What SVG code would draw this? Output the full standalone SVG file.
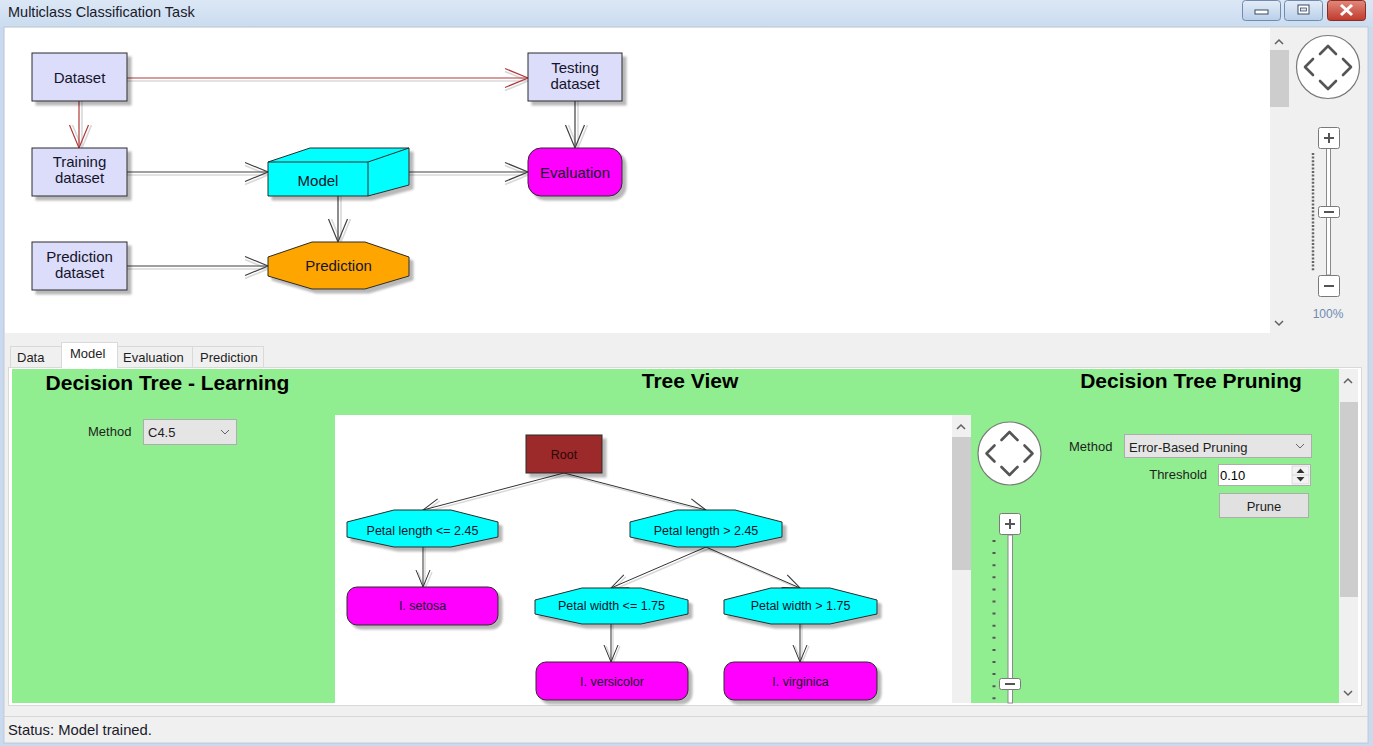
<svg xmlns="http://www.w3.org/2000/svg" width="1373" height="746" viewBox="0 0 1373 746">
<defs>
<style>
text{font-family:"Liberation Sans",Arial,sans-serif;}
.n{stroke:#2a2a2a;stroke-width:1;filter:url(#sh);}
.ds{fill:#dcdcfb;}
.lbl{font-size:15px;fill:#14142a;text-anchor:middle;}
.tl{font-size:12.5px;fill:#14142a;text-anchor:middle;}
.ui{font-size:13px;fill:#1e1e1e;}
.h{font-size:21px;font-weight:bold;fill:#000;}
.cg{fill:none;stroke:#404040;stroke-width:1.2;marker-end:url(#aG);}
.cr{fill:none;stroke:#b03a3a;stroke-width:1.2;marker-end:url(#aR);}
.cs{fill:none;stroke:#d8d8d8;stroke-width:1.6;marker-end:url(#aS);}
.tc{fill:none;stroke:#333;stroke-width:1;marker-end:url(#tG);}
.ts{fill:none;stroke:#d8d8d8;stroke-width:1.4;marker-end:url(#tS);}
.chev{fill:none;stroke:#555;stroke-width:2.6;stroke-linecap:round;stroke-linejoin:round;}
.sa{fill:none;stroke:#606060;stroke-width:1.5;}
.btn{fill:#fff;stroke:#7a7a7a;stroke-width:1;}
.ico{stroke:#555;stroke-width:2;}
.trk{fill:#fff;stroke:#8a8a8a;stroke-width:1;}
.tab{fill:#f0f0f0;stroke:#d9d9d9;stroke-width:1;}
</style>
<filter id="sh" x="-10%" y="-10%" width="130%" height="140%">
<feDropShadow dx="4" dy="4" stdDeviation="1.2" flood-color="#000" flood-opacity="0.28"/>
</filter>
<marker id="aR" markerUnits="userSpaceOnUse" markerWidth="26" markerHeight="22" viewBox="0 0 26 22" refX="24" refY="11" orient="auto"><path d="M1,1.5 L24,11 L1,20.5" fill="none" stroke="#b03a3a" stroke-width="1.2"/></marker>
<marker id="aG" markerUnits="userSpaceOnUse" markerWidth="26" markerHeight="22" viewBox="0 0 26 22" refX="24" refY="11" orient="auto"><path d="M1,1.5 L24,11 L1,20.5" fill="none" stroke="#404040" stroke-width="1.2"/></marker>
<marker id="aS" markerUnits="userSpaceOnUse" markerWidth="26" markerHeight="22" viewBox="0 0 26 22" refX="24" refY="11" orient="auto"><path d="M1,1.5 L24,11 L1,20.5" fill="none" stroke="#d8d8d8" stroke-width="1.6"/></marker>
<marker id="tG" markerUnits="userSpaceOnUse" markerWidth="20" markerHeight="18" viewBox="0 0 20 18" refX="18" refY="8" orient="auto"><path d="M1,1 L18,8 L1,15" fill="none" stroke="#333" stroke-width="1"/></marker>
<marker id="tS" markerUnits="userSpaceOnUse" markerWidth="20" markerHeight="18" viewBox="0 0 20 18" refX="18" refY="8" orient="auto"><path d="M1,1 L18,8 L1,15" fill="none" stroke="#d8d8d8" stroke-width="1.4"/></marker>
<linearGradient id="tb" x1="0" y1="0" x2="0" y2="1"><stop offset="0" stop-color="#dbe7f5"/><stop offset="1" stop-color="#cbdcf0"/></linearGradient>
<linearGradient id="wb" x1="0" y1="0" x2="0" y2="1"><stop offset="0" stop-color="#e4edf8"/><stop offset="1" stop-color="#b9cfe9"/></linearGradient>
<linearGradient id="cb" x1="0" y1="0" x2="0" y2="1"><stop offset="0" stop-color="#e08a7c"/><stop offset="1" stop-color="#c0392b"/></linearGradient>
</defs>

<!-- window chrome -->
<rect x="0" y="0" width="1373" height="746" fill="#c9daef"/>
<rect x="0" y="0" width="1373" height="27" fill="url(#tb)"/>
<text x="8" y="17" style="font-size:14.5px;fill:#1a1a2a">Multiclass Classification Task</text>
<g id="win-buttons">
<rect x="1242.5" y="0.5" width="38" height="20" rx="3" fill="url(#wb)" stroke="#6f8bb0"/>
<rect x="1255" y="10" width="13" height="4" fill="#fff" stroke="#3b4a60"/>
<rect x="1284.5" y="0.5" width="38" height="20" rx="3" fill="url(#wb)" stroke="#6f8bb0"/>
<rect x="1298" y="5" width="11" height="9" fill="#fff" stroke="#3b4a60"/>
<rect x="1300.5" y="8" width="6" height="3" fill="#dbe7f5" stroke="#3b4a60" stroke-width="0.8"/>
<rect x="1327.5" y="0.5" width="38" height="20" rx="3" fill="url(#cb)" stroke="#8a2a22"/>
<path d="M1341,5 L1352,15 M1352,5 L1341,15" stroke="#fff" stroke-width="3"/>
</g>
<rect x="4" y="27" width="1364" height="716" fill="#f0f0f0" stroke="#b0b8c4" stroke-width="0.6"/>

<!-- top diagram canvas -->
<rect x="5" y="28" width="1265" height="305" fill="#fff"/>
<rect x="1270" y="50" width="19" height="57" fill="#cdcdcd"/>
<path class="sa" d="M1275,44 L1279,40 L1283,44"/>
<path class="sa" d="M1275,321 L1279,325 L1283,321"/>

<!-- top navigator -->
<g id="top-navigator">
<circle cx="1328" cy="67" r="31.5" fill="#fff" stroke="#7a7a7a" stroke-width="1.2"/>
<path class="chev" d="M1320,54 L1328,46 L1336,54"/>
<path class="chev" d="M1320,81 L1328,89 L1336,81"/>
<path class="chev" d="M1313,59 L1305,67 L1313,75"/>
<path class="chev" d="M1343,59 L1351,67 L1343,75"/>
</g>
<g id="top-zoom">
<line x1="1313" y1="153" x2="1313" y2="271" stroke="#666" stroke-width="2.5" stroke-dasharray="2,1.6"/>
<rect class="trk" x="1326.5" y="148" width="4" height="127"/>
<rect class="btn" x="1318.5" y="127.5" width="21" height="21" rx="2"/>
<path class="ico" d="M1324,138 H1334 M1329,133 V143"/>
<rect class="btn" x="1318.5" y="206.5" width="21" height="11" rx="2"/>
<path class="ico" d="M1324,212 H1334"/>
<rect class="btn" x="1318.5" y="275.5" width="21" height="21" rx="2"/>
<path class="ico" d="M1324,286 H1334"/>
<text x="1328" y="318" text-anchor="middle" style="font-size:12px;fill:#6d8ab0">100%</text>
</g>

<!-- flow connectors -->
<g id="flow-connectors">
<path class="cs" d="M127,81 H528"/>
<path class="cs" d="M82,101 V148"/>
<path class="cs" d="M127,175 H268"/>
<path class="cs" d="M409,175 H528"/>
<path class="cs" d="M341,196 V242"/>
<path class="cs" d="M578,101 V148"/>
<path class="cs" d="M127,269 H268"/>
<path class="cr" d="M127,78 H528"/>
<path class="cr" d="M79,101 V148"/>
<path class="cg" d="M127,172 H268"/>
<path class="cg" d="M409,172 H528"/>
<path class="cg" d="M338,196 V242"/>
<path class="cg" d="M575,101 V148"/>
<path class="cg" d="M127,266 H268"/>
</g>

<!-- flow nodes -->
<g id="node-dataset">
<rect class="n ds" x="32" y="53" width="95" height="48"/>
<text class="lbl" x="79.5" y="83">Dataset</text>
</g>
<g id="node-training">
<rect class="n ds" x="32" y="148" width="95" height="48"/>
<text class="lbl" x="79.5" y="167">Training</text>
<text class="lbl" x="79.5" y="183">dataset</text>
</g>
<g id="node-predset">
<rect class="n ds" x="32" y="242" width="95" height="48"/>
<text class="lbl" x="79.5" y="262">Prediction</text>
<text class="lbl" x="79.5" y="278">dataset</text>
</g>
<g id="node-testing">
<rect class="n ds" x="528" y="53" width="94" height="48"/>
<text class="lbl" x="575" y="73">Testing</text>
<text class="lbl" x="575" y="89">dataset</text>
</g>
<g id="node-model">
<path class="n" fill="#00ffff" d="M268,162 L310,148 L409,148 L409,185 L368,196 L268,196 Z"/>
<path fill="none" stroke="#2a2a2a" d="M268,162 H368 L409,148 M368,162 V196"/>
<text class="lbl" x="318" y="186">Model</text>
</g>
<g id="node-evaluation">
<rect class="n" fill="#ff00ff" x="528" y="148" width="94" height="48" rx="13"/>
<text class="lbl" x="575" y="178">Evaluation</text>
</g>
<g id="node-prediction">
<polygon class="n" fill="#ffa500" points="312,242 365,242 409,257 409,276 365,289 312,289 268,276 268,257"/>
<text class="lbl" x="338.5" y="271">Prediction</text>
</g>

<!-- tabs -->
<g id="tabs">
<rect class="tab" x="10.5" y="346.5" width="51" height="21"/>
<rect class="tab" x="117.5" y="346.5" width="75" height="21"/>
<rect class="tab" x="192.5" y="346.5" width="71" height="21"/>
<rect x="8.5" y="367.5" width="1353" height="338" fill="#fff" stroke="#d9d9d9"/>
<path d="M61.5,368 V342.5 H117.5 V368" fill="#fff" stroke="#d9d9d9"/>
<rect x="62" y="366" width="55" height="3" fill="#fff"/>
<text class="ui" x="17" y="362">Data</text>
<text class="ui" x="70" y="358">Model</text>
<text class="ui" x="123" y="362">Evaluation</text>
<text class="ui" x="200" y="362">Prediction</text>
</g>

<!-- green panel -->
<rect x="12" y="369" width="1327" height="334" fill="#90ee90"/>
<rect x="1339" y="369" width="19" height="334" fill="#f0f0f0"/>
<rect x="1340" y="402" width="18" height="195" fill="#cdcdcd"/>
<path class="sa" d="M1344,383 L1348,379 L1352,383"/>
<path class="sa" d="M1344,691 L1348,695 L1352,691"/>

<text class="h" x="167.5" y="390" text-anchor="middle">Decision Tree - Learning</text>
<text class="h" x="690" y="388" text-anchor="middle">Tree View</text>
<text class="h" x="1191" y="388" text-anchor="middle">Decision Tree Pruning</text>

<g id="learning-controls">
<text class="ui" x="88" y="436">Method</text>
<rect x="143.5" y="419.5" width="93" height="25" fill="#e5e5e5" stroke="#adadad"/>
<text class="ui" x="148" y="437">C4.5</text>
<path d="M221,430 L225,434 L229,430" fill="none" stroke="#666"/>
</g>

<!-- tree view -->
<rect x="335" y="415" width="617" height="288" fill="#fff"/>
<rect x="952" y="415" width="19" height="288" fill="#f0f0f0"/>
<rect x="952" y="437" width="19" height="133" fill="#cdcdcd"/>
<path class="sa" d="M957,429 L961,425 L965,429"/>

<g id="tree-connectors">
<path class="ts" d="M566,475 L425,512"/>
<path class="ts" d="M566,475 L708,512"/>
<path class="ts" d="M425,547 V589"/>
<path class="ts" d="M708,549 L613,590"/>
<path class="ts" d="M708,549 L802,590"/>
<path class="ts" d="M613,624 V663"/>
<path class="ts" d="M802,624 V663"/>
<path class="tc" d="M564,473 L423,510"/>
<path class="tc" d="M564,473 L706,510"/>
<path class="tc" d="M423,547 V587"/>
<path class="tc" d="M706,547 L611,588"/>
<path class="tc" d="M706,547 L800,588"/>
<path class="tc" d="M611,624 V662"/>
<path class="tc" d="M800,624 V662"/>
</g>

<g id="tree-root">
<rect class="n" fill="#9c2a2a" x="526" y="435" width="76" height="38"/>
<text class="tl" x="564" y="459" style="fill:#2a0808">Root</text>
</g>
<g id="tree-pl-le">
<polygon class="n" fill="#00ffff" points="394,510 451,510 498,522 498,537 451,547 394,547 347,537 347,522"/>
<text class="tl" x="422.5" y="535">Petal length &lt;= 2.45</text>
</g>
<g id="tree-pl-gt">
<polygon class="n" fill="#00ffff" points="677,510 735,510 782,522 782,537 735,547 677,547 630,537 630,522"/>
<text class="tl" x="706" y="535">Petal length &gt; 2.45</text>
</g>
<g id="tree-setosa">
<rect class="n" fill="#ff00ff" x="347" y="587" width="151" height="38" rx="10"/>
<text class="tl" x="422.5" y="610">I. setosa</text>
</g>
<g id="tree-pw-le">
<polygon class="n" fill="#00ffff" points="582,588 641,588 688,600 688,614 641,624 582,624 535,614 535,600"/>
<text class="tl" x="611.5" y="610">Petal width &lt;= 1.75</text>
</g>
<g id="tree-pw-gt">
<polygon class="n" fill="#00ffff" points="771,588 830,588 877,600 877,614 830,624 771,624 724,614 724,600"/>
<text class="tl" x="800.5" y="610">Petal width &gt; 1.75</text>
</g>
<g id="tree-versicolor">
<rect class="n" fill="#ff00ff" x="536" y="662" width="152" height="38" rx="10"/>
<text class="tl" x="612" y="686">I. versicolor</text>
</g>
<g id="tree-virginica">
<rect class="n" fill="#ff00ff" x="724" y="662" width="153" height="38" rx="10"/>
<text class="tl" x="800.5" y="686">I. virginica</text>
</g>

<!-- tree navigator -->
<g id="tree-navigator">
<circle cx="1009.5" cy="453.5" r="31.5" fill="#fff" stroke="#7a7a7a" stroke-width="1.2"/>
<path class="chev" d="M1001.5,440 L1009.5,432 L1017.5,440"/>
<path class="chev" d="M1001.5,467 L1009.5,475 L1017.5,467"/>
<path class="chev" d="M994.5,445.5 L986.5,453.5 L994.5,461.5"/>
<path class="chev" d="M1024.5,445.5 L1032.5,453.5 L1024.5,461.5"/>
</g>
<g id="tree-zoom">
<line x1="994" y1="540" x2="994" y2="703" stroke="#555" stroke-width="3" stroke-dasharray="2,10.1"/>
<rect class="trk" x="1008" y="535" width="4.5" height="168"/>
<rect class="btn" x="999.5" y="513.5" width="21" height="21" rx="2"/>
<path class="ico" d="M1005,524 H1015 M1010,519 V529"/>
<rect class="btn" x="999.5" y="678.5" width="21" height="11" rx="2"/>
<path class="ico" d="M1005,684 H1015"/>
</g>

<!-- pruning controls -->
<g id="pruning-controls">
<text class="ui" x="1069" y="451">Method</text>
<rect x="1124.5" y="434.5" width="187" height="23" fill="#e5e5e5" stroke="#adadad"/>
<text class="ui" x="1129" y="452">Error-Based Pruning</text>
<path d="M1296,444 L1300,448 L1304,444" fill="none" stroke="#666"/>
<text class="ui" x="1207" y="479" text-anchor="end">Threshold</text>
<rect x="1218.5" y="464.5" width="92" height="21" fill="#fff" stroke="#adadad"/>
<text class="ui" x="1220" y="480" style="fill:#000">0.10</text>
<rect x="1292" y="466" width="17" height="18" fill="#f3f3f3" stroke="#c8c8c8" stroke-width="0.6"/>
<line x1="1292" y1="475" x2="1309" y2="475" stroke="#c8c8c8" stroke-width="0.6"/>
<polygon points="1296.5,473 1300.5,468.5 1304.5,473" fill="#333"/>
<polygon points="1296.5,477 1300.5,481.5 1304.5,477" fill="#333"/>
<rect x="1219.5" y="493.5" width="89" height="24" fill="#e1e1e1" stroke="#adadad"/>
<text class="ui" x="1264" y="511" text-anchor="middle">Prune</text>
</g>

<!-- status bar -->
<line x1="4" y1="716.5" x2="1368" y2="716.5" stroke="#d7d7d7"/>
<text x="8" y="735" style="font-size:14.8px;fill:#1a1a2a">Status: Model trained.</text>
</svg>
